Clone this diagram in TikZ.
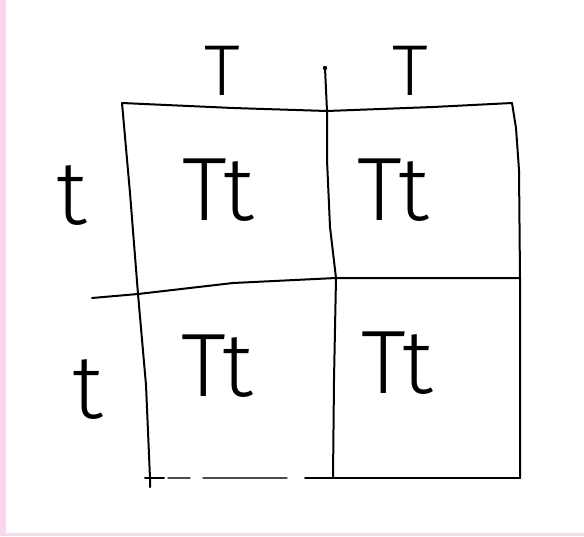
\documentclass[tikz,border=0pt]{standalone}
\usepackage{fontspec}
\newfontfamily\hand{Fira Sans Light}
\definecolor{pinkedge}{RGB}{250,214,240}
\begin{document}
\begin{tikzpicture}[x=1pt,y=-1pt,
  pen/.style={line width=2pt,line join=round,line cap=round},
  faint/.style={line width=1.4pt,black!70,line cap=round},
  biglab/.style={font=\hand\fontsize{90}{90}\selectfont,inner sep=0pt},
  toplab/.style={font=\hand\fontsize{72}{72}\selectfont,inner sep=0pt}]
\useasboundingbox (0,0) rectangle (584,536);
\fill[white] (0,0) rectangle (584,536);
\fill[pinkedge] (0,0) rectangle (6,536);
\fill[pinkedge] (0,533) rectangle (584,536);
% corners and crossings
\coordinate (tl) at (122,103);
\coordinate (tm) at (327,111);
\coordinate (tr) at (512,103);
\coordinate (ml) at (138,294);
\coordinate (mm) at (336,278);
\coordinate (mr) at (520,278);
\coordinate (bl) at (150,478);
\coordinate (bm) at (333,478);
\coordinate (br) at (520,478);
\coordinate (vtop) at (325,68);
\coordinate (hleft) at (92,298);
% borders
\draw[pen] (tl) -- (233,108) -- (tm) -- (433,107) -- (tr);
\draw[pen] (tr) -- (516,128) -- (519,170) -- (mr) -- (br);
\draw[pen] (tl) -- (130,193) -- (ml) -- (146,385) -- (bl) -- (150,487);
\draw[pen] (vtop) -- (tm) -- (327,160) -- (330,227) -- (mm) -- (334,380) -- (bm);
\draw[pen] (hleft) -- (ml) -- (233,283) -- (mm) -- (mr);
\draw[pen] (145,478) -- (164,478);
\draw[faint] (168,478) -- (190,478);
\draw[faint] (203,478) -- (287,478);
\draw[pen] (305,478) -- (br);
\fill (vtop) circle (2.2pt);
% labels
\node[toplab] (T1) at (222,71) {T};
\node[toplab] (T2) at (410,71) {T};
\node[biglab] (t1) at (72,196) {t};
\node[biglab] (t2) at (88,390) {t};
\node[biglab] (c11) at (218,190) {Tt};
\node[biglab] (c12) at (393,190) {Tt};
\node[biglab] (c21) at (217,366) {Tt};
\node[biglab] (c22) at (397,363) {Tt};
\end{tikzpicture}
\end{document}
